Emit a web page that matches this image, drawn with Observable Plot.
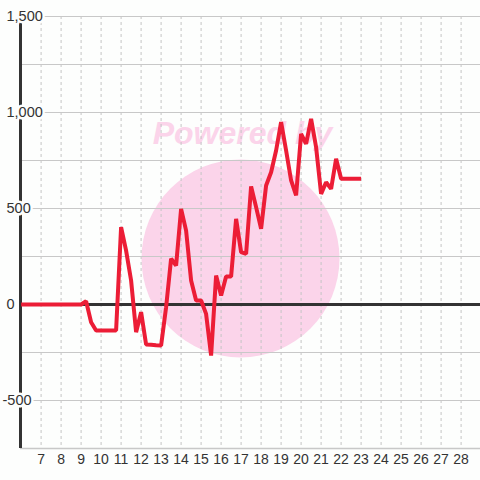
<!DOCTYPE html>
<html>
<head>
<meta charset="utf-8">
<script src="https://cdn.jsdelivr.net/npm/d3@7"></script>
<script src="https://cdn.jsdelivr.net/npm/@observablehq/plot@0.6"></script>
<style>
  html, body { margin: 0; padding: 0; background: #fdfefd; }
  #chart { width: 480px; height: 480px; }
</style>
</head>
<body>
<div id="chart"></div>
<script>
// Data
const xs = [6, 6.25, 6.5, 6.75, 7, 7.25, 7.5, 7.75, 8, 8.25, 8.5, 8.75, 9,
  9.25, 9.5, 9.75, 10, 10.25, 10.5, 10.75, 11, 11.25, 11.5, 11.75, 12,
  12.25, 12.5, 12.75, 13, 13.25, 13.5, 13.75, 14, 14.25, 14.5, 14.75, 15,
  15.25, 15.5, 15.75, 16, 16.25, 16.5, 16.75, 17, 17.25, 17.5, 17.75, 18,
  18.25, 18.5, 18.75, 19, 19.25, 19.5, 19.75, 20, 20.25, 20.5, 20.75, 21,
  21.25, 21.5, 21.75, 22, 22.25, 22.5, 22.75, 23];
const values = [0, 0, 0, 0, 0, 0, 0, 0, 0, 0, 0, 0, 0,
  17, -92, -135, -135, -135, -135, -135, 403, 281, 125, -144, -40,
  -208, -210, -212, -213, -14, 238, 203, 498, 385, 125, 21, 21,
  -49, -266, 151, 47, 146, 146, 446, 273, 264, 615, 507, 394,
  620, 689, 802, 950, 802, 646, 568, 889, 837, 967, 819, 576,
  637, 602, 759, 655, 655, 655, 655, 655];
const xTicks = [7, 8, 9, 10, 11, 12, 13, 14, 15, 16, 17, 18, 19, 20, 21, 22, 23, 24, 25, 26, 27, 28];
const yLabels = [-500, 0, 500, 1000, 1500];
const yGrid = [-500, -250, 0, 250, 500, 750, 1000, 1250, 1500];
const xDomain = [5.97, 28.97];
const yDomain = [-750, 1500];

const data = xs.map((x, i) => ({x, y: values[i]}));
const bg = "#fdfefd";
const fmt = d => d3.format(",")(d).replace("\u2212", "-");

const chart = Plot.plot({
  width: 480,
  height: 480,
  marginLeft: 20,
  marginRight: 0,
  marginTop: 16,
  marginBottom: 32,
  style: {background: bg, fontFamily: "'Liberation Sans', Arial, sans-serif", color: "#333", overflow: "visible"},
  x: {domain: xDomain, axis: null},
  y: {domain: yDomain, axis: null},
  marks: [
    // watermark
    Plot.dot([0], {frameAnchor: "middle", dx: -10, dy: 26, r: 99, fill: "#fbd4ea", stroke: "none"}),
    Plot.text(["Powered by"], {frameAnchor: "middle", dx: -8, dy: -99, fontSize: 32, fontWeight: "bold", fontStyle: "italic", fill: "#fbd4ea"}),
    // grid
    Plot.ruleX(xTicks, {stroke: "#c4c4c4", strokeDasharray: "3,3", strokeWidth: 1}),
    Plot.ruleY(yGrid, {stroke: "#c8c8c8", strokeWidth: 1}),
    Plot.ruleY([yDomain[0]], {stroke: "#c8c8c8", strokeWidth: 1.5}),
    Plot.ruleY([0], {stroke: "#333", strokeWidth: 3}),
    Plot.ruleX([xDomain[0]], {stroke: "#333", strokeWidth: 3}),
    // series
    Plot.line(data, {x: "x", y: "y", stroke: "#ec1d36", strokeWidth: 4, strokeLinejoin: "miter", strokeLinecap: "butt"}),
    // y labels with background halo
    Plot.text(yLabels.filter(d => d >= 0), {x: xDomain[0], y: d => d, text: d => fmt(d), textAnchor: "start", dx: -14, fontSize: 14.5, fill: "#333", stroke: bg, strokeWidth: 5, clip: false}),
    Plot.text(yLabels.filter(d => d < 0), {x: xDomain[0], y: d => d, text: d => fmt(d), textAnchor: "start", dx: -18, fontSize: 14.5, fill: "#333", stroke: bg, strokeWidth: 5, clip: false}),
    // x labels
    Plot.axisX(xTicks, {tickSize: 0, tickPadding: 6, fontSize: 14, label: null, tickFormat: d => String(d), color: "#333"})
  ]
});
document.getElementById("chart").appendChild(chart);
</script>
</body>
</html>
